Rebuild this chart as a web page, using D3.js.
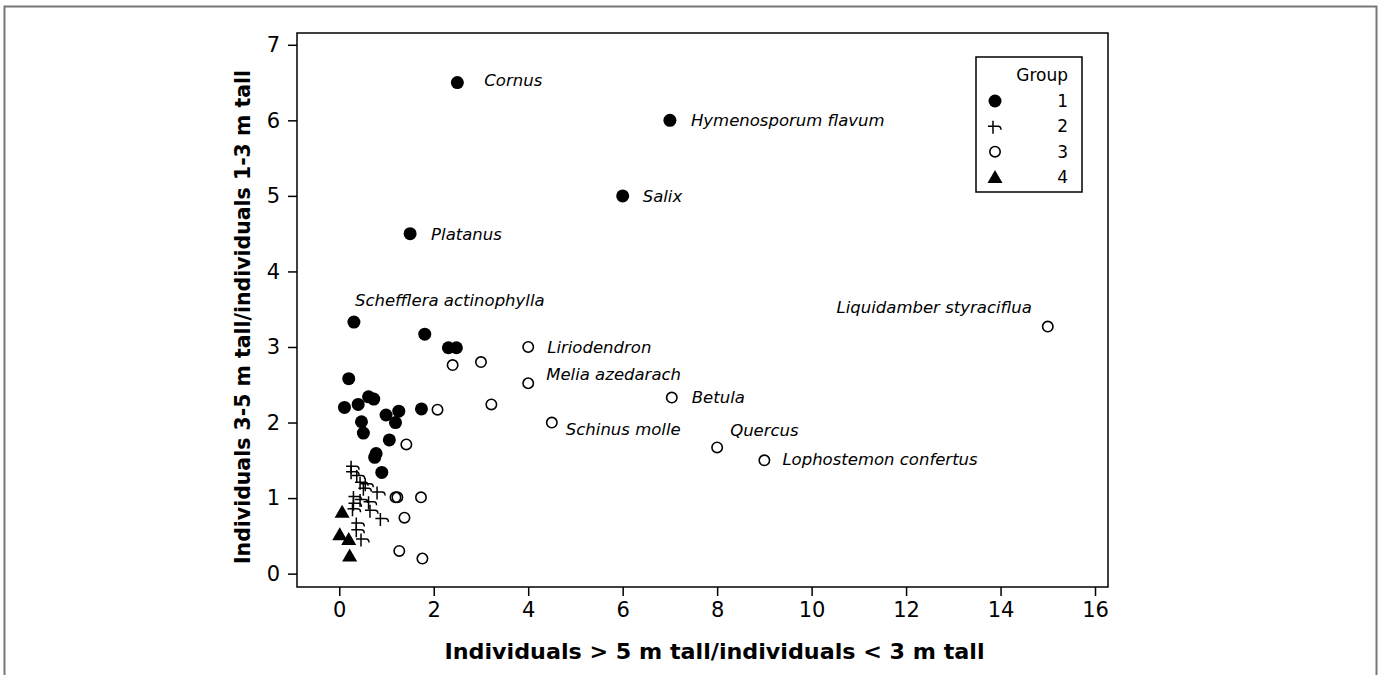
<!DOCTYPE html>
<html>
<head>
<meta charset="utf-8">
<script src="https://cdn.jsdelivr.net/npm/d3@7"></script>
<style>
  body { margin: 0; background: #fff; }
  svg { display: block; }
</style>
</head>
<body>
<div id="chart"></div>
<script>
var svgWidth = 1380;
var svgHeight = 675;

// group 1: filled circles
var group1 = [
    [2.5, 6.5], [7, 6], [6, 5], [1.5, 4.5], [0.31, 3.33],
    [1.81, 3.17], [2.31, 2.99], [2.48, 2.99], [0.2, 2.58], [0.11, 2.2],
    [0.4, 2.24], [0.62, 2.34], [0.73, 2.31], [0.99, 2.1], [1.26, 2.15],
    [1.19, 2.0], [0.47, 2.01], [0.51, 1.86], [1.74, 2.18], [1.06, 1.77],
    [0.78, 1.59], [0.75, 1.54], [0.9, 1.34]
];
// group 2: crosses
var group2 = [
    [0.25, 1.42], [0.25, 1.35], [0.37, 1.3], [0.44, 1.21], [0.55, 1.19],
    [0.51, 1.13], [0.8, 1.08], [0.3, 1.02], [0.44, 0.98], [0.62, 0.95],
    [0.65, 0.84], [0.87, 0.73], [0.28, 0.86], [0.36, 0.67], [0.36, 0.58],
    [0.46, 0.46], [0.3, 0.93]
];
// group 3: open circles
var group3 = [
    [15, 3.27], [4, 3.0], [4, 2.52], [7.04, 2.33], [4.5, 2.0],
    [8, 1.67], [9, 1.5], [2.4, 2.76], [3.0, 2.8], [2.08, 2.17],
    [3.22, 2.24], [1.42, 1.71], [1.19, 1.01], [1.23, 1.01], [1.73, 1.01],
    [1.38, 0.74], [1.27, 0.3], [1.76, 0.2]
];
// group 4: triangles
var group4 = [[0.06, 0.82], [0.01, 0.52], [0.2, 0.46], [0.22, 0.24]];

// labelled species
var labels = [
    { name: "Cornus", x: 2.5, y: 6.5 },
    { name: "Hymenosporum flavum", x: 7, y: 6 },
    { name: "Salix", x: 6, y: 5 },
    { name: "Platanus", x: 1.5, y: 4.5 },
    { name: "Schefflera actinophylla", x: 0.31, y: 3.33 },
    { name: "Liquidamber styraciflua", x: 15, y: 3.27 },
    { name: "Liriodendron", x: 4, y: 3.0 },
    { name: "Melia azedarach", x: 4, y: 2.52 },
    { name: "Betula", x: 7.04, y: 2.33 },
    { name: "Schinus molle", x: 4.5, y: 2.0 },
    { name: "Quercus", x: 8, y: 1.67 },
    { name: "Lophostemon confertus", x: 9, y: 1.5 }
];
// label offsets in px from the marker
var labelOffset = {
    "Cornus": [27, -3, "start"],
    "Hymenosporum flavum": [21, 0, "start"],
    "Salix": [20, 0, "start"],
    "Platanus": [21, 0, "start"],
    "Schefflera actinophylla": [1, -22, "start"],
    "Liquidamber styraciflua": [-16, -20, "end"],
    "Liriodendron": [19, 0, "start"],
    "Melia azedarach": [18, -9, "start"],
    "Betula": [20, -1, "start"],
    "Schinus molle": [14, 7, "start"],
    "Quercus": [13, -17, "start"],
    "Lophostemon confertus": [18, -1, "start"]
};

var xTicks = [0, 2, 4, 6, 8, 10, 12, 14, 16];
var yTicks = [0, 1, 2, 3, 4, 5, 6, 7];
var legendGroups = ["1", "2", "3", "4"];

var plot = { left: 297, right: 1108, top: 33, bottom: 587 };

var svg = d3.select("#chart")
    .append("svg")
    .attr("width", svgWidth)
    .attr("height", svgHeight);

// outer frame
svg.append("rect")
    .attr("x", 4.5).attr("y", 6.5)
    .attr("width", 1372).attr("height", 700)
    .attr("fill", "none")
    .attr("stroke", "#777")
    .attr("stroke-width", 2);

var xScale = d3.scaleLinear()
    .domain([-0.895, 16.275])
    .range([plot.left, plot.right]);
var yScale = d3.scaleLinear()
    .domain([-0.177, 7.156])
    .range([plot.bottom, plot.top]);

var font = "'DejaVu Sans', Verdana, sans-serif";

// axes
var xAxis = svg.append("g")
    .attr("transform", `translate(0, ${plot.bottom})`)
    .call(d3.axisBottom(xScale).tickValues(xTicks).tickSize(9).tickPadding(6).tickFormat(d3.format("d")));
var yAxis = svg.append("g")
    .attr("transform", `translate(${plot.left}, 0)`)
    .call(d3.axisLeft(yScale).tickValues(yTicks).tickSize(9).tickPadding(8).tickFormat(d3.format("d")));
[xAxis, yAxis].forEach(function (a) {
    a.select(".domain").remove();
    a.selectAll("line").attr("stroke", "#000").attr("stroke-width", 1.5);
    a.selectAll("text")
        .attr("font-family", font)
        .attr("font-size", "21px")
        .attr("fill", "#000");
});

// plot frame
svg.append("rect")
    .attr("x", plot.left).attr("y", plot.top)
    .attr("width", plot.right - plot.left)
    .attr("height", plot.bottom - plot.top)
    .attr("fill", "none")
    .attr("stroke", "#000")
    .attr("stroke-width", 1.5);

// axis titles
svg.append("text")
    .attr("x", (plot.left + plot.right) / 2 + 12)
    .attr("y", 659)
    .attr("text-anchor", "middle")
    .attr("font-family", "'DejaVu Sans Condensed', 'DejaVu Sans', sans-serif")
    .attr("font-weight", "bold")
    .attr("font-size", "22px")
    .attr("textLength", 540)
    .attr("lengthAdjust", "spacingAndGlyphs")
    .text("Individuals > 5 m tall/individuals < 3 m tall");

svg.append("text")
    .attr("transform", `translate(250, 317) rotate(-90)`)
    .attr("text-anchor", "middle")
    .attr("font-family", "'DejaVu Sans Condensed', 'DejaVu Sans', sans-serif")
    .attr("font-weight", "bold")
    .attr("font-size", "22px")
    .attr("textLength", 494)
    .attr("lengthAdjust", "spacingAndGlyphs")
    .text("Individuals 3-5 m tall/individuals 1-3 m tall");

// symbols
var crossPath = "M0,-5.5V7.5M-5,0H5Q8,0 8,3.5";
var triPath = "M0,-7L7.5,6L-7.5,6Z";

function drawFilled(g, pts) {
    g.selectAll(null).data(pts).enter().append("circle")
        .attr("cx", d => xScale(d[0]))
        .attr("cy", d => yScale(d[1]))
        .attr("r", 6.5)
        .attr("fill", "#000");
}
function drawOpen(g, pts) {
    g.selectAll(null).data(pts).enter().append("circle")
        .attr("cx", d => xScale(d[0]))
        .attr("cy", d => yScale(d[1]))
        .attr("r", 5.2)
        .attr("fill", "none")
        .attr("stroke", "#000")
        .attr("stroke-width", 1.6);
}
function drawCross(g, pts) {
    g.selectAll(null).data(pts).enter().append("path")
        .attr("transform", d => `translate(${xScale(d[0])}, ${yScale(d[1])})`)
        .attr("d", crossPath)
        .attr("fill", "none")
        .attr("stroke", "#000")
        .attr("stroke-width", 1.5);
}
function drawTri(g, pts) {
    g.selectAll(null).data(pts).enter().append("path")
        .attr("transform", d => `translate(${xScale(d[0])}, ${yScale(d[1])})`)
        .attr("d", triPath)
        .attr("fill", "#000");
}

var marks = svg.append("g");
drawOpen(marks, group3);
drawCross(marks, group2);
drawFilled(marks, group1);
drawTri(marks, group4);

// species labels
svg.append("g").selectAll("text")
    .data(labels)
    .enter()
    .append("text")
    .attr("x", d => xScale(d.x) + labelOffset[d.name][0])
    .attr("y", d => yScale(d.y) + labelOffset[d.name][1])
    .attr("dy", "0.36em")
    .attr("text-anchor", d => labelOffset[d.name][2])
    .attr("font-family", font)
    .attr("font-style", "italic")
    .attr("font-size", "16.5px")
    .attr("fill", "#000")
    .text(d => d.name);

// legend
var legend = svg.append("g");
legend.append("rect")
    .attr("x", 976).attr("y", 57)
    .attr("width", 106).attr("height", 135)
    .attr("fill", "#fff")
    .attr("stroke", "#000")
    .attr("stroke-width", 1.5);
legend.append("text")
    .attr("x", 1068).attr("y", 75)
    .attr("dy", "0.36em")
    .attr("text-anchor", "end")
    .attr("font-family", font)
    .attr("font-size", "17px")
    .text("Group");
var rowY = d3.scalePoint().domain(legendGroups).range([101, 177]);
legendGroups.forEach(function (g, i) {
    var y = rowY(g);
    if (i === 0) legend.append("circle").attr("cx", 995).attr("cy", y).attr("r", 6.5).attr("fill", "#000");
    if (i === 1) legend.append("path").attr("transform", `translate(993, ${y})`).attr("d", crossPath)
        .attr("fill", "none").attr("stroke", "#000").attr("stroke-width", 1.5);
    if (i === 2) legend.append("circle").attr("cx", 995).attr("cy", y).attr("r", 5.2)
        .attr("fill", "none").attr("stroke", "#000").attr("stroke-width", 1.6);
    if (i === 3) legend.append("path").attr("transform", `translate(995, ${y})`).attr("d", triPath).attr("fill", "#000");
    legend.append("text")
        .attr("x", 1068).attr("y", y)
        .attr("dy", "0.36em")
        .attr("text-anchor", "end")
        .attr("font-family", font)
        .attr("font-size", "17px")
        .text(g);
});
</script>
</body>
</html>
